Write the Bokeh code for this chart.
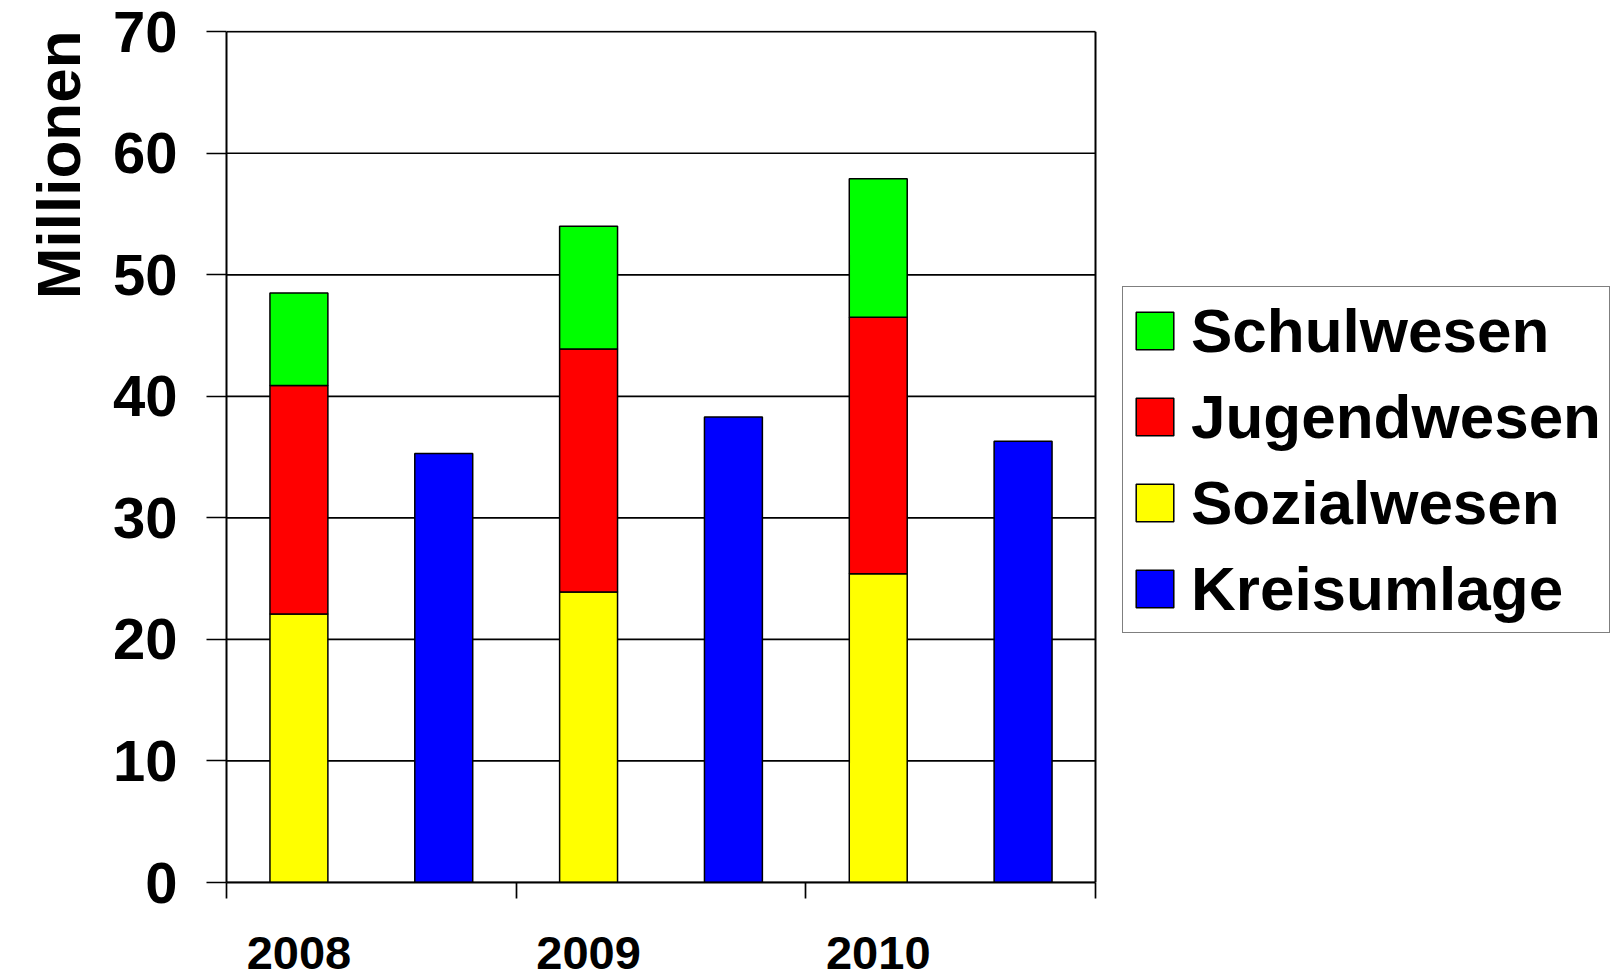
from bokeh.plotting import figure
from bokeh.models import (Range1d, FixedTicker, Legend, LegendItem,
                          ColumnDataSource, Title)
from bokeh.embed import file_html
from bokeh.resources import INLINE

# Haushaltsdaten in Millionen Euro
years = ["2008", "2009", "2010"]
sozialwesen = [22.1, 23.9, 25.4]
jugendwesen = [18.8, 20.0, 21.1]
schulwesen = [7.6, 10.1, 11.4]
kreisumlage = [35.3, 38.3, 36.3]
y_ticks = [0, 10, 20, 30, 40, 50, 60, 70]

FONT = "Liberation Sans"

n = len(years)
# Each year occupies one unit on the x axis: stacked bar left, Kreisumlage right
stack_x = [i + 0.25 for i in range(n)]
kreis_x = [i + 0.75 for i in range(n)]
bounds_x = list(range(n + 1))

# The plot area continues to the right edge so the legend can sit there;
# the chart itself spans x = 0 .. n
CHART_W = 869
AREA_W = 1610 - 226
x_end = n * AREA_W / CHART_W

src = ColumnDataSource(dict(
    x=stack_x,
    Sozialwesen=sozialwesen,
    Jugendwesen=jugendwesen,
    Schulwesen=schulwesen,
))
src_k = ColumnDataSource(dict(x=kreis_x, top=kreisumlage))

p = figure(width=1610, height=976, output_backend="svg", toolbar_location=None,
           x_range=Range1d(0, x_end), y_range=Range1d(0, 70.1),
           min_border_left=226, min_border_right=0,
           min_border_top=30, min_border_bottom=94)

p.background_fill_color = "white"
p.border_fill_color = "white"
p.outline_line_color = None
p.xgrid.visible = False
p.ygrid.visible = False

# Horizontal grid lines and right-hand border of the chart
p.segment(x0=[0] * len(y_ticks), x1=[n] * len(y_ticks), y0=y_ticks, y1=y_ticks,
          line_color="black", line_width=1.7)
p.segment(x0=[n], x1=[n], y0=[0], y1=[max(y_ticks)],
          line_color="black", line_width=2)

stack_r = p.vbar_stack(["Sozialwesen", "Jugendwesen", "Schulwesen"], x="x",
                       width=0.2, source=src,
                       fill_color=["#ffff00", "#ff0000", "#00ff00"],
                       line_color="black", line_width=1.5)
kreis_r = p.vbar(x="x", top="top", width=0.2, source=src_k,
                 fill_color="#0000ff", line_color="black", line_width=1.5)

# Y axis
yax = p.yaxis[0]
yax.ticker = FixedTicker(ticks=y_ticks)
yax.bounds = (0, max(y_ticks))
yax.axis_line_color = "black"
yax.axis_line_width = 2
yax.major_tick_out = 20
yax.major_tick_in = 0
yax.major_tick_line_width = 1.7
yax.minor_tick_line_color = None
yax.major_label_standoff = 29
yax.major_label_text_font = FONT
yax.major_label_text_font_style = "bold"
yax.major_label_text_font_size = "58px"
yax.major_label_text_color = "black"

# X axis: year labels under the stacked bars, ticks on year boundaries
xax = p.xaxis[0]
xax.ticker = FixedTicker(ticks=stack_x, minor_ticks=bounds_x)
xax.bounds = (0, n)
xax.major_label_overrides = {x: y for x, y in zip(stack_x, years)}
xax.axis_line_color = "black"
xax.axis_line_width = 2
xax.major_tick_line_color = None
xax.major_tick_out = 0
xax.major_tick_in = 0
xax.minor_tick_line_color = "black"
xax.minor_tick_line_width = 1.7
xax.minor_tick_out = 16
xax.minor_tick_in = 0
xax.major_label_standoff = 38
xax.major_label_text_font = FONT
xax.major_label_text_font_style = "bold"
xax.major_label_text_font_size = "47px"
xax.major_label_text_color = "black"

# Unit label on the left, aligned with the top of the plot
p.add_layout(Title(text="Millionen", align="right", standoff=30,
                   vertical_align="top",
                   text_font=FONT, text_font_style="bold",
                   text_font_size="62px", text_color="black"), "left")

legend = Legend(items=[
    LegendItem(label="Schulwesen", renderers=[stack_r[2]]),
    LegendItem(label="Jugendwesen", renderers=[stack_r[1]]),
    LegendItem(label="Sozialwesen", renderers=[stack_r[0]]),
    LegendItem(label="Kreisumlage", renderers=[kreis_r]),
], location=(896, 249))
legend.border_line_color = "black"
legend.border_line_width = 1.5
legend.background_fill_color = "white"
legend.background_fill_alpha = 1.0
legend.padding = 8
legend.margin = 0
legend.spacing = 15
legend.label_height = 70
legend.glyph_height = 47
legend.glyph_width = 47
legend.label_standoff = 13
legend.label_text_font = FONT
legend.label_text_font_style = "bold"
legend.label_text_font_size = "62px"
legend.label_text_color = "black"
p.add_layout(legend, "center")

open("out.html", "w").write(file_html(p, INLINE))
